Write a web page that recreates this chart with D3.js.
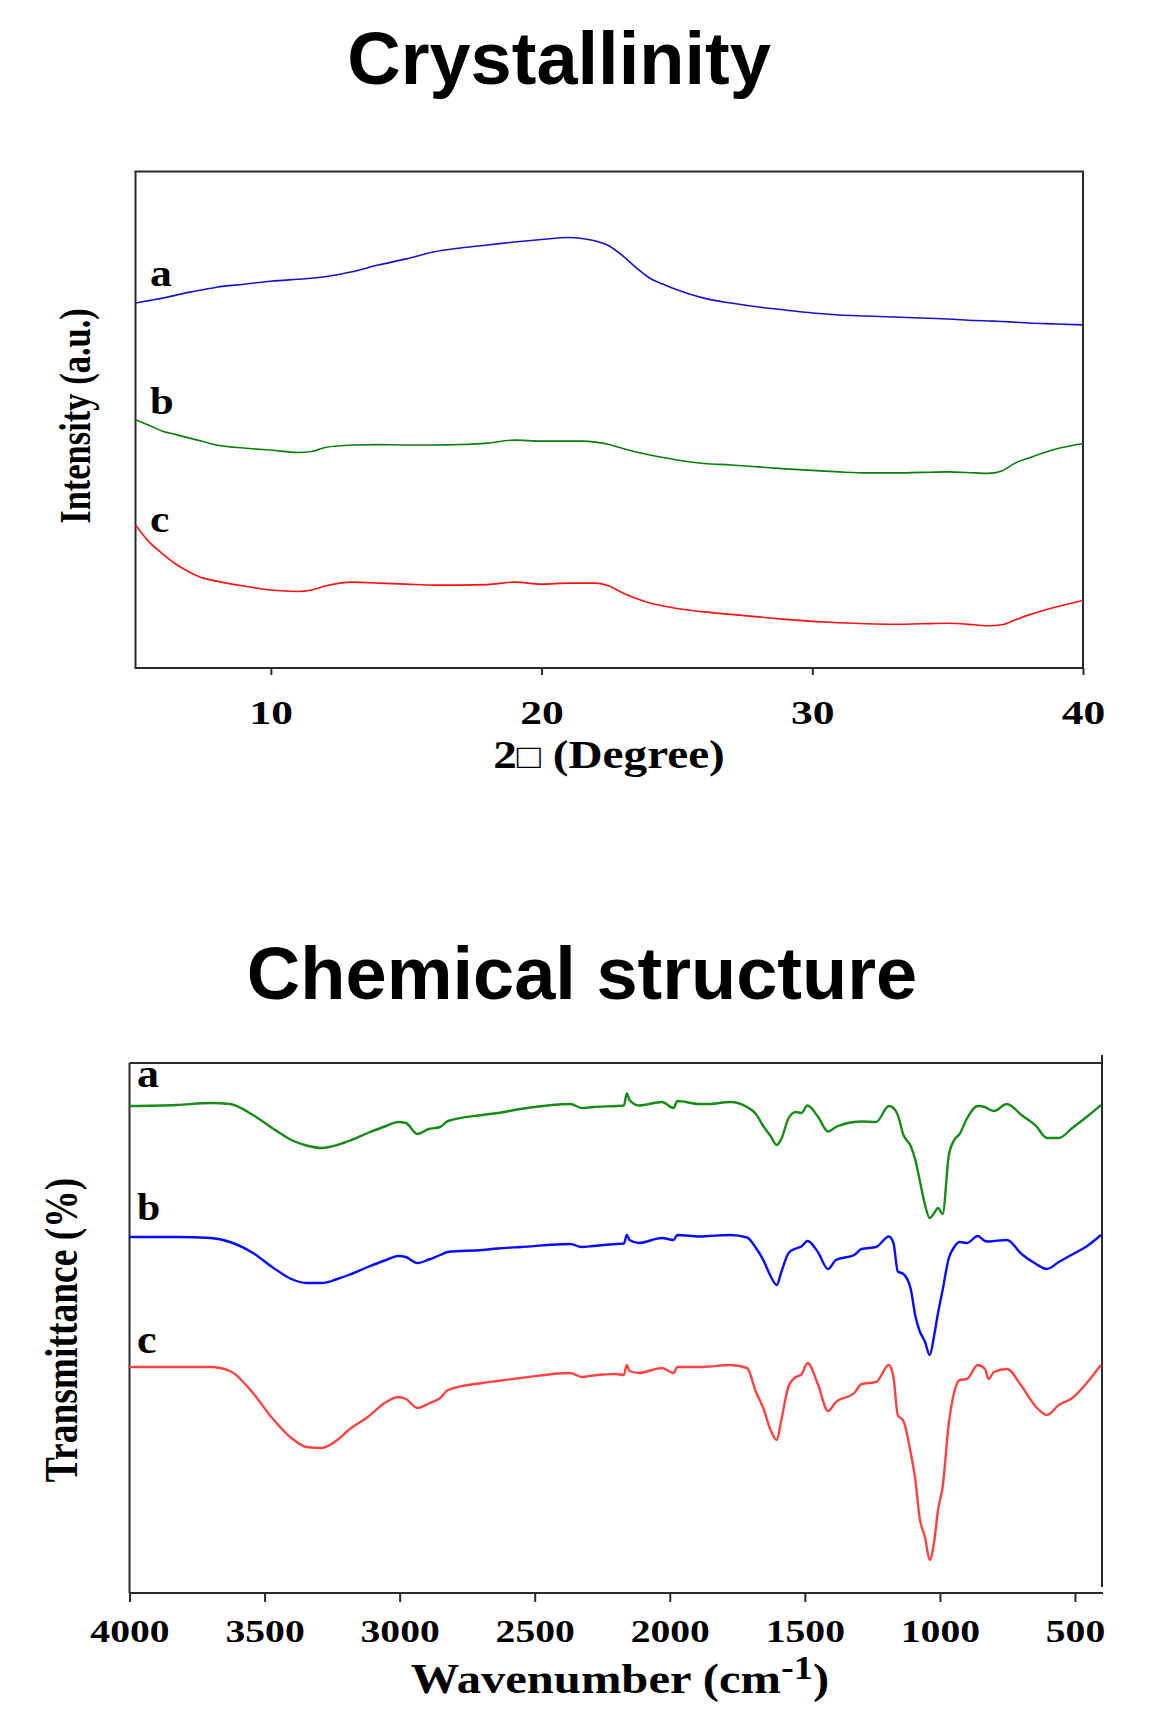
<!DOCTYPE html>
<html lang="en">
<head>
<meta charset="utf-8">
<title>Crystallinity and chemical structure</title>
<script src="https://cdn.jsdelivr.net/npm/d3@7"></script>
<style>
  html, body { margin: 0; padding: 0; background: #fff; }
  .title { font-family: "Liberation Sans", Arial, sans-serif; font-weight: bold; font-size: 74px; fill: #000; }
  .lbl { font-family: "Liberation Serif", "Times New Roman", serif; font-weight: bold; fill: #000; }
  .frame { stroke: #2a2a2a; stroke-width: 2; fill: none; }
</style>
</head>
<body>
<script>
// ---- XRD data (2theta in degrees, intensity in a.u., already offset) ----
var xrdAngle = [5,5.5,6,6.5,7,7.5,8,9,10,11,11.5,12,13,14,15,16,17,18,19,20,21,21.5,22,22.5,23,23.5,24,24.5,25,26,27,28,29,30,31,32,33,34,35,36,36.5,37,37.5,38,39,40];
var xrdA = [73.5,74.0,74.5,75.1,75.7,76.2,76.7,77.3,77.9,78.3,78.5,78.8,79.8,81.2,82.4,83.8,84.6,85.2,85.8,86.3,86.7,86.5,86.0,85.0,83.0,80.6,78.5,77.3,76.2,74.5,73.5,72.7,72.1,71.5,71.1,70.9,70.7,70.5,70.3,70.0,69.9,69.8,69.65,69.5,69.3,69.1];
var xrdB = [50.0,48.9,47.7,47.0,46.3,45.6,44.9,44.3,43.9,43.4,43.6,44.4,44.9,45.0,44.9,44.9,45.0,45.3,45.9,45.7,45.7,45.7,45.5,45.0,44.2,43.5,42.9,42.4,41.9,41.2,40.9,40.5,40.1,39.8,39.5,39.3,39.3,39.4,39.5,39.3,39.2,39.7,41.3,42.3,44.1,45.2];
var xrdC = [28.8,25.4,23.0,20.9,19.3,18.1,17.5,16.5,15.7,15.4,15.7,16.5,17.3,17.1,16.9,16.7,16.7,16.8,17.3,16.9,17.1,17.1,17.1,16.5,15.1,14.0,13.1,12.5,12.0,11.3,10.8,10.3,9.8,9.4,9.1,8.9,8.8,8.9,9.0,8.7,8.5,8.7,9.7,10.7,12.3,13.6];
var xrdTicks = [10, 20, 30, 40];
var xrdNames = ["a", "b", "c"];

// ---- FTIR data (wavenumber in cm-1, transmittance in a.u., offset) ----
var ftirWavenumber = [4000,3826,3700,3628,3543,3472,3401,3345,3288,3231,3189,3118,3050,3005,2977,2934,2892,2850,2821,2694,2637,2552,2368,2326,2283,2199,2170,2159,2149,2114,2029,1986,1972,1890,1856,1776,1714,1681,1654,1627,1604,1587,1560,1533,1513,1490,1452,1414,1385,1317,1290,1236,1189,1172,1156,1135,1108,1091,1075,1055,1038,1021,1007,990,967,947,927,900,860,833,820,800,752,698,644,604,560,510,455,404];
var ftirA = [48.7,48.8,49.0,48.9,47.8,46.5,45.3,44.75,44.5,44.8,
             45.2,46.0,46.7,47.1,47.0,45.9,46.4,46.6,47.2,47.8,
             48.0,48.4,48.9,48.5,48.6,48.7,48.75,49.95,49.3,48.75,
             49.1,48.5,49.2,48.9,48.9,49.1,48.6,47.9,46.7,45.7,
             44.8,45.4,47.5,48.1,48.0,48.75,47.65,46.15,46.6,47.1,
             47.15,47.1,48.7,48.5,47.8,45.8,44.7,43.3,41.3,38.8,
             37.5,38.0,38.5,37.9,43.8,45.3,45.9,47.45,48.7,48.6,
             48.4,48.2,48.9,47.8,46.7,45.5,45.5,46.5,47.65,48.8];
var ftirB = [35.6,35.6,35.5,35.1,34.0,32.6,31.4,31.0,31.0,31.4,
             31.8,32.6,33.3,33.7,33.6,33.0,33.35,33.8,34.1,34.3,
             34.45,34.6,34.9,34.6,34.7,34.9,34.95,35.8,35.3,35.0,
             35.5,35.3,35.8,35.65,35.7,35.8,35.55,34.5,33.3,31.7,
             30.8,32.1,34.0,34.45,34.65,35.2,34.1,32.4,33.3,33.8,
             34.4,34.6,35.65,35.0,32.15,31.9,30.4,27.7,26.2,25.1,
             23.8,25.8,28.0,30.3,33.5,34.6,35.1,35.0,35.7,35.2,
             35.15,35.2,35.3,33.9,32.9,32.4,33.1,33.85,34.7,35.8];
var ftirC = [22.6,22.6,22.6,22.2,20.0,17.5,15.5,14.6,14.5,15.3,
             16.3,17.6,19.1,19.6,19.4,18.5,18.95,19.5,20.3,21.0,
             21.2,21.5,22.0,21.6,21.75,21.9,21.8,22.8,22.2,22.0,
             22.5,22.0,22.6,22.6,22.65,22.8,22.5,20.1,18.5,16.3,
             15.3,17.3,20.7,21.6,21.85,23.0,20.9,18.2,19.1,20.0,
             20.9,21.1,22.8,21.6,17.8,17.2,14.0,11.3,7.5,5.55,
             3.3,5.2,8.3,10.6,17.0,20.1,21.3,21.4,22.8,22.4,
             21.4,22.1,22.4,20.7,18.6,17.8,18.8,19.5,21.05,22.8];
var ftirTicks = [4000, 3500, 3000, 2500, 2000, 1500, 1000, 500];
var ftirNames = ["a", "b", "c"];

var W = 1171, H = 1716;
var svg = d3.select("body").append("svg")
  .attr("width", W).attr("height", H);

// stretched text helper (original figure text is a bit widened)
function label(parent, txt, x, y, size, sx, anchor) {
  var g = parent.append("g").attr("transform", "translate(" + x + "," + y + ")");
  var t = g.append("text").attr("class", "lbl")
    .attr("font-size", size)
    .attr("text-anchor", anchor || "middle")
    .attr("transform", "scale(" + sx + ",1)")
    .text(txt);
  return t;
}

// ================= Crystallinity (XRD) =================
svg.append("text").attr("class", "title")
  .attr("x", 559).attr("y", 84).attr("text-anchor", "middle")
  .text("Crystallinity");

var xr = { left: 135.5, right: 1083, top: 171.5, bottom: 668 };
var xX = d3.scaleLinear().domain([5, 40]).range([xr.left, xr.right]);
var yX = d3.scaleLinear().domain([0, 100]).range([xr.bottom, xr.top]);

var gX = svg.append("g");
gX.append("rect").attr("class", "frame")
  .attr("x", xr.left).attr("y", xr.top)
  .attr("width", xr.right - xr.left).attr("height", xr.bottom - xr.top);

var axX = gX.append("g").attr("transform", "translate(0," + xr.bottom + ")")
  .call(d3.axisBottom(xX).tickValues(xrdTicks).tickSize(7).tickFormat(d3.format("d")));
axX.select(".domain").remove();
axX.selectAll("line").attr("stroke", "#2a2a2a").attr("stroke-width", 2);
axX.selectAll("text")
  .attr("class", "lbl").attr("font-size", 34).attr("fill", "#000")
  .attr("y", 56).attr("dy", null)
  .attr("transform", "scale(1.28,1)");

var xrdSeries = [
  { name: xrdNames[0], vals: xrdA, color: "#1414c8" },
  { name: xrdNames[1], vals: xrdB, color: "#0b7f0b" },
  { name: xrdNames[2], vals: xrdC, color: "#ff1010" }
];
var lineX = d3.line().curve(d3.curveMonotoneX)
  .x(function (d) { return xX(d[0]); })
  .y(function (d) { return yX(d[1]); });
xrdSeries.forEach(function (s) {
  gX.append("path")
    .datum(xrdAngle.map(function (a, i) { return [a, s.vals[i]]; }))
    .attr("d", lineX)
    .attr("fill", "none")
    .attr("stroke", s.color)
    .attr("stroke-width", 1.6);
});
// series letters
label(gX, xrdNames[0], 150, 286, 38, 1.15, "start");
label(gX, xrdNames[1], 150, 414, 37, 1.15, "start");
label(gX, xrdNames[2], 150, 532, 38, 1.15, "start");

// axis titles
var xt = label(gX, "", 609, 768, 40, 1.18);
xt.append("tspan").text("2");
xt.append("tspan").attr("font-size", 34).attr("font-weight", "normal").text("\u25A1");
xt.append("tspan").text(" (Degree)");

gX.append("g").attr("transform", "translate(90,416) scale(1.28,1) rotate(-90)")
  .append("text").attr("class", "lbl").attr("font-size", 34.5)
  .attr("text-anchor", "middle").text("Intensity (a.u.)");

// ================= Chemical structure (FTIR) =================
svg.append("text").attr("class", "title")
  .attr("x", 582).attr("y", 999).attr("text-anchor", "middle")
  .text("Chemical structure");

var fr = { left: 129.5, right: 1102, top: 1063, bottom: 1593 };
var xF = d3.scaleLinear().domain([4000, 400]).range([fr.left, fr.right]);
var yF = d3.scaleLinear().domain([0, 53]).range([fr.bottom, fr.top]);

var gF = svg.append("g");
gF.append("line").attr("class", "frame")
  .attr("x1", fr.left).attr("x2", fr.right).attr("y1", fr.top).attr("y2", fr.top);
gF.append("line").attr("class", "frame")
  .attr("x1", fr.left).attr("x2", fr.left).attr("y1", fr.top).attr("y2", fr.bottom);
gF.append("line").attr("class", "frame")
  .attr("x1", fr.right).attr("x2", fr.right).attr("y1", fr.top - 8).attr("y2", fr.bottom - 6);

var axF = gF.append("g").attr("transform", "translate(0," + fr.bottom + ")")
  .call(d3.axisBottom(xF).tickValues(ftirTicks).tickSize(9).tickFormat(d3.format("d")));
axF.select(".domain").attr("stroke", "#2a2a2a").attr("stroke-width", 2)
  .attr("d", "M" + fr.left + ",0H" + (fr.right + 1));
axF.selectAll("line").attr("stroke", "#2a2a2a").attr("stroke-width", 2);
axF.selectAll("text")
  .attr("class", "lbl").attr("font-size", 32.5).attr("fill", "#000")
  .attr("y", 49).attr("dy", null)
  .attr("transform", "scale(1.22,1)");

var ftirSeries = [
  { name: ftirNames[0], vals: ftirA, color: "#178a17" },
  { name: ftirNames[1], vals: ftirB, color: "#0a0aff" },
  { name: ftirNames[2], vals: ftirC, color: "#ff4242" }
];
var lineF = d3.line().curve(d3.curveMonotoneX)
  .x(function (d) { return xF(d[0]); })
  .y(function (d) { return yF(d[1]); });
ftirSeries.forEach(function (s) {
  gF.append("path")
    .datum(ftirWavenumber.map(function (w, i) { return [w, s.vals[i]]; }))
    .attr("d", lineF)
    .attr("fill", "none")
    .attr("stroke", s.color)
    .attr("stroke-width", 2.4)
    .attr("stroke-linejoin", "round");
});
label(gF, ftirNames[0], 137, 1087, 40, 1.1, "start");
label(gF, ftirNames[1], 137, 1220, 38, 1.1, "start");
label(gF, ftirNames[2], 137, 1353, 40, 1.1, "start");

// axis titles
var wt = label(gF, "", 620, 1693, 43, 1.13);
wt.append("tspan").text("Wavenumber (cm");
wt.append("tspan").attr("font-size", 34).attr("dy", -14).text("-1");
wt.append("tspan").attr("dy", 14).text(")");

gF.append("g").attr("transform", "translate(77,1330) scale(1.22,1) rotate(-90)")
  .append("text").attr("class", "lbl").attr("font-size", 37.5)
  .attr("text-anchor", "middle").text("Transmittance (%)");
</script>
</body>
</html>
